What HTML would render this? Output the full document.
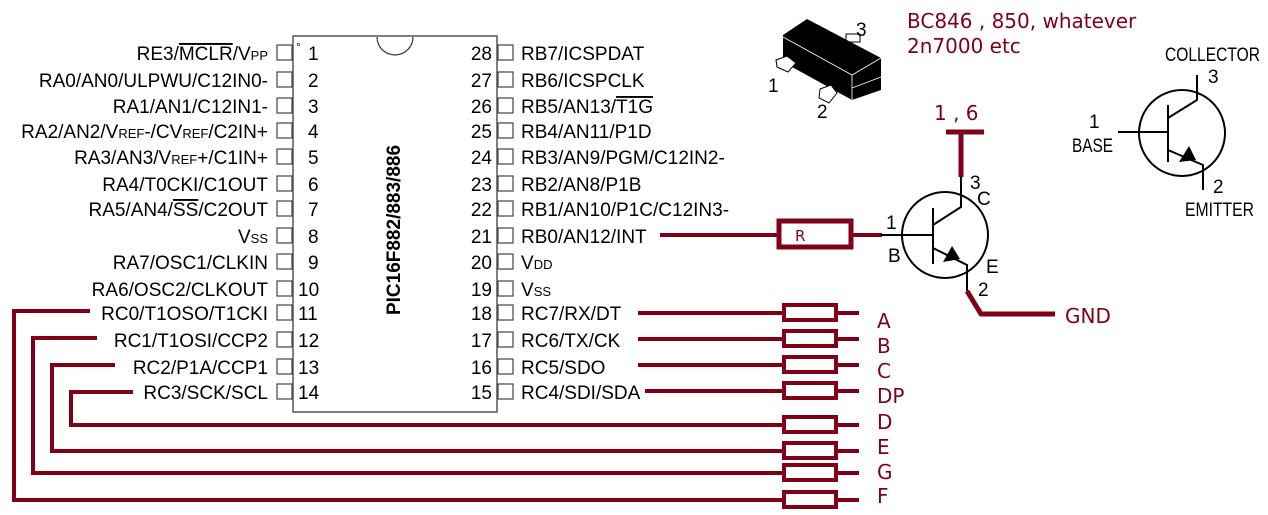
<!DOCTYPE html>
<html><head><style>
body{margin:0;background:#fff;}
svg{display:block;font-family:"Liberation Sans",Arial,sans-serif;}
.p{font-size:19px;fill:#000;}
.m{fill:#800018;font-family:"DejaVu Sans",sans-serif;}
</style></head><body>
<svg width="1268" height="515" viewBox="0 0 1268 515">
<!-- chip -->
<rect x="293" y="36" width="204" height="376" fill="#fff" stroke="#555" stroke-width="1.5"/>
<path d="M377 37 a18 18 0 0 0 36 0" fill="none" stroke="#333" stroke-width="1.2"/>
<text x="400" y="230" class="p" font-weight="bold" font-size="20" text-anchor="middle" transform="rotate(-90 400 230)">PIC16F882/883/886</text>
<g fill="#fff" stroke="#444" stroke-width="1.2">
<rect x="277" y="45" width="15" height="15"/><rect x="277" y="72" width="15" height="15"/><rect x="277" y="98" width="15" height="15"/><rect x="277" y="123" width="15" height="15"/><rect x="277" y="149" width="15" height="15"/><rect x="277" y="176" width="15" height="15"/><rect x="277" y="201" width="15" height="15"/><rect x="277" y="228" width="15" height="15"/><rect x="277" y="254" width="15" height="15"/><rect x="277" y="281" width="15" height="15"/><rect x="277" y="305" width="15" height="15"/><rect x="277" y="332" width="15" height="15"/><rect x="277" y="359" width="15" height="15"/><rect x="277" y="384" width="15" height="15"/>
<rect x="498" y="45" width="15" height="15"/><rect x="498" y="72" width="15" height="15"/><rect x="498" y="98" width="15" height="15"/><rect x="498" y="123" width="15" height="15"/><rect x="498" y="149" width="15" height="15"/><rect x="498" y="176" width="15" height="15"/><rect x="498" y="201" width="15" height="15"/><rect x="498" y="228" width="15" height="15"/><rect x="498" y="254" width="15" height="15"/><rect x="498" y="281" width="15" height="15"/><rect x="498" y="305" width="15" height="15"/><rect x="498" y="332" width="15" height="15"/><rect x="498" y="359" width="15" height="15"/><rect x="498" y="384" width="15" height="15"/>
</g>
<text x="296" y="51" font-size="12">°</text>
<g class="p" text-anchor="end">
<text x="268" y="60">RE3/<tspan text-decoration="overline">MCLR</tspan>/V<tspan font-size="13">PP</tspan></text>
<text x="268" y="87">RA0/AN0/ULPWU/C12IN0-</text>
<text x="268" y="113">RA1/AN1/C12IN1-</text>
<text x="268" y="138">RA2/AN2/V<tspan font-size="13">REF</tspan>-/CV<tspan font-size="13">REF</tspan>/C2IN+</text>
<text x="268" y="164">RA3/AN3/V<tspan font-size="13">REF</tspan>+/C1IN+</text>
<text x="268" y="191">RA4/T0CKI/C1OUT</text>
<text x="268" y="216">RA5/AN4/<tspan text-decoration="overline">SS</tspan>/C2OUT</text>
<text x="268" y="243">V<tspan font-size="13">SS</tspan></text>
<text x="268" y="269">RA7/OSC1/CLKIN</text>
<text x="268" y="296">RA6/OSC2/CLKOUT</text>
<text x="268" y="320">RC0/T1OSO/T1CKI</text>
<text x="268" y="347">RC1/T1OSI/CCP2</text>
<text x="268" y="374">RC2/P1A/CCP1</text>
<text x="268" y="399">RC3/SCK/SCL</text>
<text x="492" y="60">28</text><text x="492" y="87">27</text><text x="492" y="113">26</text><text x="492" y="138">25</text><text x="492" y="164">24</text><text x="492" y="191">23</text><text x="492" y="216">22</text><text x="492" y="243">21</text><text x="492" y="269">20</text><text x="492" y="296">19</text><text x="492" y="320">18</text><text x="492" y="347">17</text><text x="492" y="374">16</text><text x="492" y="399">15</text>
</g>
<g class="p">
<text x="308" y="60">1</text><text x="308" y="87">2</text><text x="308" y="113">3</text><text x="308" y="138">4</text><text x="308" y="164">5</text><text x="308" y="191">6</text><text x="308" y="216">7</text><text x="308" y="243">8</text><text x="308" y="269">9</text><text x="298" y="296">10</text><text x="298" y="320">11</text><text x="298" y="347">12</text><text x="298" y="374">13</text><text x="298" y="399">14</text>
<text x="521" y="60">RB7/ICSPDAT</text>
<text x="521" y="87">RB6/ICSPCLK</text>
<text x="521" y="113">RB5/AN13/<tspan text-decoration="overline">T1G</tspan></text>
<text x="521" y="138">RB4/AN11/P1D</text>
<text x="521" y="164">RB3/AN9/PGM/C12IN2-</text>
<text x="521" y="191">RB2/AN8/P1B</text>
<text x="521" y="216">RB1/AN10/P1C/C12IN3-</text>
<text x="521" y="243">RB0/AN12/INT</text>
<text x="521" y="269">V<tspan font-size="13">DD</tspan></text>
<text x="521" y="296">V<tspan font-size="13">SS</tspan></text>
<text x="521" y="320">RC7/RX/DT</text>
<text x="521" y="347">RC6/TX/CK</text>
<text x="521" y="374">RC5/SDO</text>
<text x="521" y="399">RC4/SDI/SDA</text>
</g>
<!-- maroon wires -->
<g stroke="#800018" stroke-width="4" fill="none">
<path d="M638 313H782M837 313H859M638 339H782M837 339H859M638 365H782M837 365H859M645 391H782M837 391H859"/>
<path d="M90 311H14V500H782M837 500H859"/>
<path d="M97 338H33V473H782M837 473H859"/>
<path d="M115 365H52V451H782M837 451H859"/>
<path d="M133 392H71V425H782M837 425H859"/>
<rect x="784" y="305" width="52" height="15"/><rect x="784" y="331" width="52" height="15"/><rect x="784" y="357" width="52" height="15"/><rect x="784" y="383" width="52" height="15"/>
<rect x="784" y="417" width="52" height="15"/><rect x="784" y="443" width="52" height="15"/><rect x="784" y="465" width="52" height="15"/><rect x="784" y="492" width="52" height="15"/>
<path d="M660 235H779M852 235H882"/>
<rect x="779" y="221" width="72" height="26" stroke-width="5"/>
<path d="M961 177V132M946 132H984" stroke-width="5"/>
<path d="M967 291L981 314H1055" stroke-width="5"/>
</g>
<text x="795" y="241" class="m" font-size="15">R</text>
<g class="m" font-size="20">
<text x="877" y="328">A</text><text x="877" y="353">B</text><text x="877" y="378">C</text><text x="877" y="403">DP</text>
<text x="877" y="429">D</text><text x="877" y="454">E</text><text x="877" y="479">G</text><text x="877" y="503">F</text>
<text x="1065" y="323">GND</text>
<text x="934" y="120">1 , 6</text>
</g>
<g class="m" font-size="20">
<text x="907" y="28">BC846 , 850, whatever</text>
<text x="907" y="53">2n7000 etc</text>
</g>
<!-- transistor 1 -->
<g stroke="#000" stroke-width="2" fill="none">
<circle cx="945" cy="235" r="43"/>
<path d="M881 235H933M933 208V264M933 225L961 207V177M933 248L967 265V291"/>
</g>
<path d="M943 262L960 259L952 246Z" fill="#000"/>
<g class="p" font-size="16">
<text x="970" y="189">3</text><text x="977" y="205">C</text><text x="886" y="229">1</text><text x="888" y="262">B</text><text x="986" y="273">E</text><text x="978" y="296">2</text>
</g>
<!-- transistor 2 -->
<g stroke="#000" stroke-width="2" fill="none">
<circle cx="1182" cy="133" r="43"/>
<path d="M1118 132H1168M1168 105V162M1168 118L1197 100V75M1168 150L1203 165V190"/>
</g>
<path d="M1179 162L1196 160L1189 146Z" fill="#000"/>
<g class="p" font-size="16">
<text x="1165" y="61" textLength="95" lengthAdjust="spacingAndGlyphs">COLLECTOR</text><text x="1208" y="83">3</text><text x="1089" y="128">1</text><text x="1072" y="152" textLength="41" lengthAdjust="spacingAndGlyphs">BASE</text><text x="1213" y="193">2</text><text x="1185" y="216" textLength="69" lengthAdjust="spacingAndGlyphs">EMITTER</text>
</g>
<!-- SOT23 package -->
<rect x="846" y="34" width="14" height="8" fill="#fff" stroke="#000" stroke-width="1"/>
<polygon points="783,35 807,19 881,58 881,90 852,100 783,62" fill="#000"/>
<path d="M783 37L852 75L881 58M852 75V100M852 88L881 77" stroke="#fff" stroke-width="0.8" fill="none"/>
<polygon points="776,60 787,56 796,63 788,72 777,67" fill="#fff" stroke="#000" stroke-width="1"/>
<polygon points="820,89 831,85 837,93 829,103 819,98" fill="#fff" stroke="#000" stroke-width="1"/>
<g class="p" font-size="15"><text x="856" y="36">3</text><text x="768" y="92">1</text><text x="817" y="118">2</text></g>
</svg>
</body></html>
